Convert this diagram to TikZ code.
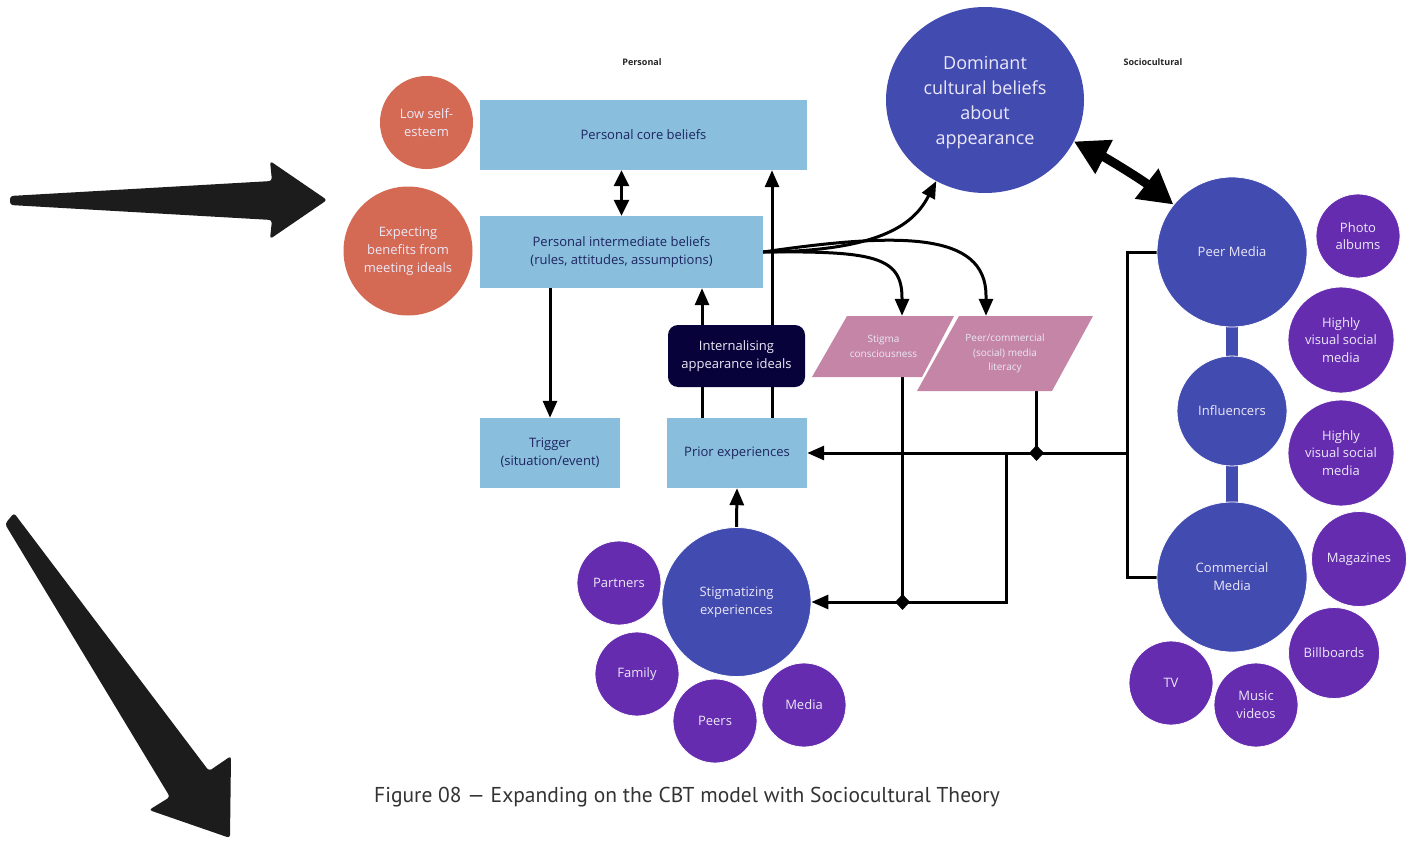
\documentclass[tikz,border=0pt]{standalone}
\usepackage{fontspec}
\setmainfont{Open Sans}
\newfontfamily\capfont{PT Sans}
\usetikzlibrary{arrows.meta,calc,shapes.geometric}
\definecolor{boxblue}{HTML}{89BFDD}
\definecolor{boxtext}{HTML}{1E2460}
\definecolor{navy}{HTML}{07033A}
\definecolor{coral}{HTML}{D46A54}
\definecolor{royal}{HTML}{414BB0}
\definecolor{violet}{HTML}{652CB0}
\definecolor{mauve}{HTML}{C485A6}
\definecolor{inkgrey}{HTML}{1C1C1C}
\definecolor{softwhite}{HTML}{ECE8F8}
\definecolor{captiongrey}{HTML}{333333}
\pgfdeclarelayer{background}
\pgfsetlayers{background,main}
\begin{document}
\begin{tikzpicture}[x=1pt,y=-1pt,
  beliefbox/.style={rectangle, fill=boxblue, text=boxtext, align=center, inner sep=0pt,
    font=\fontsize{13}{18}\selectfont},
  coralc/.style={circle, fill=coral, text=softwhite, align=center, inner sep=0pt,
    font=\fontsize{13}{18}\selectfont},
  bigc/.style={circle, fill=royal, draw=white, line width=0.8pt, text=softwhite, align=center, inner sep=0pt,
    font=\fontsize{13}{18}\selectfont},
  smallc/.style={circle, fill=violet, draw=white, line width=0.8pt, text=softwhite, align=center, inner sep=0pt,
    font=\fontsize{13}{17.5}\selectfont},
  paratext/.style={rectangle, inner sep=0pt, align=center, text=softwhite,
    font=\fontsize{10}{14.5}\selectfont},
  hdr/.style={font=\bfseries\fontsize{9}{11}\selectfont, text=black!85},
  ln/.style={line width=3pt, draw=black},
  arr/.style={ln, -{Triangle[length=17pt,width=14pt]}},
  dblarr/.style={ln, {Triangle[length=16pt,width=15pt]}-{Triangle[length=16pt,width=15pt]}},
  bigdbl/.style={line width=9pt, {Triangle[length=34pt,width=36pt]}-{Triangle[length=34pt,width=36pt]}},
  jdot/.style={diamond, fill=black, minimum width=15pt, minimum height=16pt, inner sep=0pt}
]
\useasboundingbox (0,0) rectangle (1416,843);

% hand-drawn pointer arrows
\fill[inkgrey, rounded corners=3pt] (10,196) -- (272,181) -- (270,161) -- (327,200)
  -- (270,239) -- (272,220) -- (10,205) -- cycle;
\fill[inkgrey, rounded corners=3pt] (14,513) -- (209,771) -- (231,756) -- (230,838)
  -- (149,810) -- (170,797) -- (5,524) -- cycle;

% column headers
\node[hdr] (hpers) at (642,62) {Personal};
\node[hdr] (hsoc) at (1153,62) {Sociocultural};

% CBT boxes
\node[beliefbox, minimum width=327pt, minimum height=70pt] (core) at (643.5,135) {Personal core beliefs};
\node[beliefbox, minimum width=283pt, minimum height=72pt] (inter) at (621.5,252)
  {Personal intermediate beliefs\\(rules, attitudes, assumptions)};
\node[beliefbox, minimum width=140pt, minimum height=70pt] (trig) at (550,453) {Trigger\\(situation/event)};
\node[beliefbox, minimum width=140pt, minimum height=70pt] (prior) at (737,453) {Prior experiences};
\node[rectangle, rounded corners=10pt, fill=navy, text=softwhite, minimum width=137pt, minimum height=62pt,
  align=center, inner sep=0pt, font=\fontsize{13}{18}\selectfont] (ideal) at (736.5,356)
  {Internalising\\appearance ideals};

% personal factors
\node[coralc, minimum size=93pt] (lse) at (426.5,122.5) {Low self-\\esteem};
\node[coralc, minimum size=129pt] (expb) at (408,251) {Expecting\\benefits from\\meeting ideals};

% cognitive filters
\fill[mauve] (847,316) -- (954,316) -- (922,377) -- (812,377) -- cycle;
\node[paratext, minimum width=100pt, minimum height=61pt] (sc) at (883.5,346.5) {Stigma\\consciousness};
\fill[mauve] (959,316) -- (1093,316) -- (1052,391) -- (917,391) -- cycle;
\node[paratext, minimum width=120pt, minimum height=75pt] (pc) at (1005,353.5)
  {Peer/commercial\\(social) media\\literacy};

% sociocultural influences
\node[ellipse, fill=royal, minimum width=198pt, minimum height=186pt, inner sep=0pt] (dom) at (985,100) {};
\node[text=softwhite, align=center, inner sep=0pt, font=\fontsize{18}{25}\selectfont] (domtext) at (985,103)
  {Dominant\\cultural beliefs\\about\\appearance};
\node[bigc, minimum size=150pt] (peer) at (1232,252) {Peer Media};
\node[bigc, minimum size=110pt] (infl) at (1232,411) {Influencers};
\node[bigc, minimum size=150pt] (comm) at (1232,577) {Commercial\\Media};
\node[bigc, minimum size=149pt] (sexp) at (736.5,602) {Stigmatizing\\experiences};

\node[smallc, minimum size=84pt] (photo) at (1358,236) {Photo\\albums};
\node[smallc, minimum size=106pt] (hvsA) at (1341,340) {Highly\\visual social\\media};
\node[smallc, minimum size=106pt] (hvsB) at (1341,453) {Highly\\visual social\\media};
\node[smallc, minimum size=95pt] (mags) at (1359,559) {Magazines};
\node[smallc, minimum size=91pt] (bill) at (1334,653) {Billboards};
\node[smallc, minimum size=84pt] (tv) at (1171,683) {TV};
\node[smallc, minimum size=84pt] (music) at (1256,705) {Music\\videos};

\node[smallc, minimum size=84pt] (partners) at (619,583) {Partners};
\node[smallc, minimum size=84pt] (family) at (637,674) {Family};
\node[smallc, minimum size=84pt] (peers) at (715,721) {Peers};
\node[smallc, minimum size=84pt] (media) at (804,705) {Media};

% connectors, kept underneath the shapes
\begin{pgfonlayer}{background}
  \fill[white] (0,0) rectangle (1416,843);
  \fill[royal] ($(peer.south)+(-6,-3)$) rectangle ($(infl.north)+(6,3)$);
  \fill[royal] ($(infl.south)+(-6,-3)$) rectangle ($(comm.north)+(6,3)$);

  \draw[dblarr] (inter.north) -- (inter.north |- core.south);
  \coordinate (upR) at ($(prior.north)+(35,0)$);
  \draw[arr] (upR) -- (upR |- core.south);
  \coordinate (upL) at ($(prior.north)+(-35,0)$);
  \draw[ln] (upL) -- (upL |- ideal.south);
  \draw[arr] (upL |- ideal.north) -- (upL |- inter.south);
  \draw[arr] (trig.north |- inter.south) -- (trig.north);
  \draw[arr] (sexp.north) -- (prior.south);

  \coordinate (scIn) at ($(sc.north)+(18.5,0)$);
  \coordinate (pcIn) at ($(pc.north)+(-19,0)$);
  \draw[arr] (inter.east) .. controls (885,251) and (915,222) .. (dom.-121);
  \draw[arr] (inter.east) .. controls (872,251) and (902,256) .. ($(scIn)+(0,-18)$) -- (scIn);
  \draw[arr] (inter.east) .. controls (900,232) and (986,232) .. ($(pcIn)+(0,-20)$) -- (pcIn);

  \draw[ln] (peer.west) -- ++(-29,0) coordinate (bTop) -- (bTop |- comm.west) -- (comm.west);
  \coordinate (bMid) at (bTop |- prior.east);
  \draw[arr] (bMid) -- (prior.east);
  \coordinate (pcOut) at ($(pc.south)+(31.5,0)$);
  \draw[ln] (pcOut) -- (pcOut |- prior.east);
  \coordinate (loopTop) at (1006,453);
  \draw[arr] (loopTop) |- (sexp.east);
  \coordinate (scOut) at ($(sc.south)+(19,0)$);
  \draw[ln] (scOut) -- (scOut |- sexp.east);
\end{pgfonlayer}

\draw[bigdbl] (dom.-25) .. controls +(35,18) and +(-32,-25) .. (peer.141);

\node[jdot] (jA) at (pcOut |- prior.east) {};
\node[jdot] (jB) at (scOut |- sexp.east) {};

% caption
\node[font=\capfont\fontsize{21.5}{25}\selectfont, text=captiongrey] (cap) at (687,797)
  {Figure 08 — Expanding on the CBT model with Sociocultural Theory};
\end{tikzpicture}
\end{document}
